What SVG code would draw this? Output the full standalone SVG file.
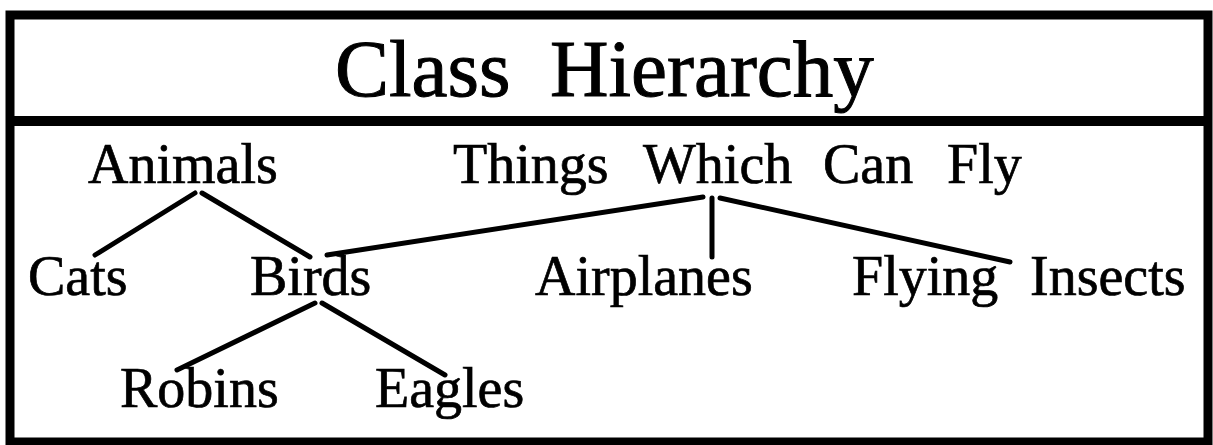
<svg xmlns="http://www.w3.org/2000/svg" width="1213" height="445" viewBox="0 0 1213 445">
<style>
.t{font-family:"Liberation Serif","Times New Roman",serif;fill:#000;stroke:#000;stroke-width:0.7}
.lbl{font-size:56px}
.ttl{font-size:81px;stroke-width:1}
.c line{stroke:#000;stroke-width:5;stroke-linecap:round}
.frame{fill:none;stroke:#000;stroke-width:9}
</style>
<rect width="1213" height="445" fill="#fff"/>
<g id="frame">
<rect class="frame" x="10" y="15" width="1198" height="427"/>
<line x1="10" y1="121" x2="1208" y2="121" stroke="#000" stroke-width="10"/>
</g>
<g id="title"><text class="t ttl" y="96"><tspan x="335">Class</tspan><tspan x="550">Hierarchy</tspan></text></g>
<g id="connectors" class="c">
<line x1="195" y1="193" x2="95" y2="255"/>
<line x1="202" y1="193" x2="310" y2="257"/>
<line x1="327" y1="255" x2="703" y2="197"/>
<line x1="712" y1="198" x2="712" y2="257"/>
<line x1="720" y1="198" x2="1010" y2="262"/>
<line x1="315" y1="303" x2="177" y2="370"/>
<line x1="322" y1="303" x2="445" y2="375"/>
</g>
<g id="animals"><text class="t lbl" x="88" y="183">Animals</text></g>
<g id="flyers"><text class="t lbl" y="183"><tspan x="453">Things</tspan><tspan x="643">Which</tspan><tspan x="823">Can</tspan><tspan x="947">Fly</tspan></text></g>
<g id="cats"><text class="t lbl" x="28" y="295">Cats</text></g>
<g id="birds"><text class="t lbl" x="250" y="295">Birds</text></g>
<g id="airplanes"><text class="t lbl" x="535" y="295">Airplanes</text></g>
<g id="insects"><text class="t lbl" y="295"><tspan x="852">Flying</tspan><tspan x="1030">Insects</tspan></text></g>
<g id="robins"><text class="t lbl" x="120" y="407">Robins</text></g>
<g id="eagles"><text class="t lbl" x="375" y="407">Eagles</text></g>
</svg>
